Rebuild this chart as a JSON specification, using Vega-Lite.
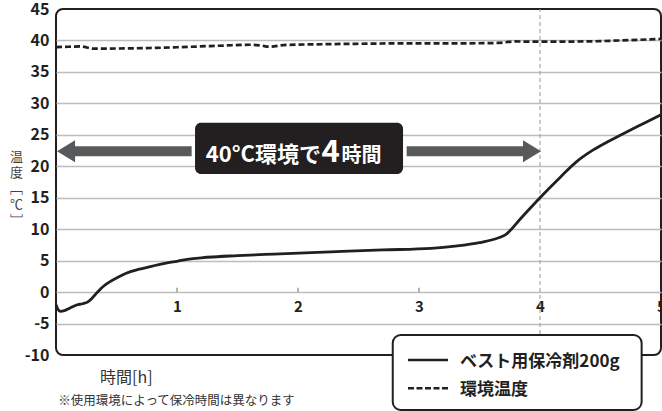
{
  "$schema": "https://vega.github.io/schema/vega-lite/v6.json",
  "width": 605,
  "height": 346,
  "autosize": {"type": "none"},
  "padding": {"left": 56, "top": 9, "right": 1, "bottom": 56},
  "background": "white",
  "config": {
    "view": {"stroke": "#231f20", "strokeWidth": 2, "cornerRadius": 7},
    "font": "Noto Sans CJK JP",
    "text": {"font": "Noto Sans CJK JP"}
  },
  "datasets": {
    "vest": [
      {"h": 0, "v": -2.0}, {"h": 0.015, "v": -2.7}, {"h": 0.035, "v": -3.05}, {"h": 0.07, "v": -2.95},
      {"h": 0.12, "v": -2.5}, {"h": 0.17, "v": -2.05}, {"h": 0.22, "v": -1.85}, {"h": 0.26, "v": -1.6},
      {"h": 0.29, "v": -1.15}, {"h": 0.32, "v": -0.5}, {"h": 0.36, "v": 0.35}, {"h": 0.4, "v": 1.05},
      {"h": 0.45, "v": 1.7}, {"h": 0.52, "v": 2.45}, {"h": 0.58, "v": 3.0}, {"h": 0.68, "v": 3.6},
      {"h": 0.78, "v": 4.05}, {"h": 0.9, "v": 4.55}, {"h": 1.0, "v": 4.9}, {"h": 1.1, "v": 5.25},
      {"h": 1.2, "v": 5.45}, {"h": 1.5, "v": 5.8}, {"h": 1.8, "v": 6.05}, {"h": 2.27, "v": 6.4},
      {"h": 2.7, "v": 6.7}, {"h": 3.1, "v": 6.95}, {"h": 3.3, "v": 7.3}, {"h": 3.5, "v": 7.85},
      {"h": 3.62, "v": 8.4}, {"h": 3.71, "v": 9.05}, {"h": 3.85, "v": 11.9}, {"h": 4.0, "v": 15.0},
      {"h": 4.17, "v": 18.3}, {"h": 4.3, "v": 20.7}, {"h": 4.44, "v": 22.6}, {"h": 4.58, "v": 24.1},
      {"h": 4.72, "v": 25.5}, {"h": 4.86, "v": 26.85}, {"h": 5.0, "v": 28.2}
    ],
    "env": [
      {"h": 0, "v": 38.95}, {"h": 0.1, "v": 39.0}, {"h": 0.2, "v": 39.05}, {"h": 0.31, "v": 38.7},
      {"h": 0.5, "v": 38.72}, {"h": 0.78, "v": 38.8}, {"h": 1.0, "v": 38.92}, {"h": 1.19, "v": 39.05},
      {"h": 1.4, "v": 39.2}, {"h": 1.6, "v": 39.32}, {"h": 1.69, "v": 39.2}, {"h": 1.77, "v": 39.0},
      {"h": 1.88, "v": 39.27}, {"h": 2.2, "v": 39.4}, {"h": 2.48, "v": 39.47}, {"h": 3.0, "v": 39.55},
      {"h": 3.4, "v": 39.55}, {"h": 3.65, "v": 39.6}, {"h": 3.79, "v": 39.84}, {"h": 4.01, "v": 39.8},
      {"h": 4.39, "v": 39.85}, {"h": 4.67, "v": 40.0}, {"h": 5.0, "v": 40.25}
    ]
  },
  "encoding": {
    "x": {
      "field": "h",
      "type": "quantitative",
      "scale": {"domain": [0, 5], "nice": false, "zero": false},
      "axis": {
        "values": [1, 2, 3, 4, 5],
        "offset": -63,
        "domain": false,
        "ticks": false,
        "grid": false,
        "labelPadding": 7,
        "labelFontSize": 15,
        "labelFontWeight": "bold",
        "labelColor": "#231f20",
        "labelFlush": false,
        "labelOverlap": false,
        "title": null
      }
    },
    "y": {
      "field": "v",
      "type": "quantitative",
      "scale": {"domain": [-10, 45], "nice": false, "zero": false},
      "axis": {
        "values": [-10, -5, 0, 5, 10, 15, 20, 25, 30, 35, 40, 45],
        "labelExpr": "'' + datum.value",
        "domain": false,
        "ticks": false,
        "grid": true,
        "gridColor": {"condition": {"test": "datum.value == 45 || datum.value == -10", "value": "transparent"}, "value": "#bdbdbd"},
        "gridWidth": 1.5,
        "labelPadding": 7,
        "labelFontSize": 16,
        "labelFontWeight": "bold",
        "labelColor": "#231f20",
        "title": ["温", "度", "﹇", "℃", "﹈"],
        "titleAngle": 0,
        "titleX": -40,
        "titleY": 141,
        "titleAlign": "center",
        "titleBaseline": "top",
        "titleFontSize": 13,
        "titleFontWeight": "normal",
        "titleColor": "#444444",
        "titleLineHeight": 16
      }
    }
  },
  "layer": [
    {
      "data": {"values": [{"h": 4, "v": -10, "v2": 45}]},
      "mark": {"type": "rule", "color": "#999999", "strokeWidth": 1, "strokeDash": [4, 3]},
      "encoding": {"y2": {"field": "v2"}}
    },
    {
      "data": {"values": [{"h": 1, "v": 0, "v2": 0.7}, {"h": 2, "v": 0, "v2": 0.7}, {"h": 3, "v": 0, "v2": 0.7}]},
      "mark": {"type": "rule", "color": "#999999", "strokeWidth": 1.5},
      "encoding": {"y2": {"field": "v2"}}
    },
    {
      "data": {"name": "env"},
      "mark": {"type": "line", "color": "#231f20", "strokeWidth": 2.7, "strokeDash": [6, 3], "interpolate": "monotone"}
    },
    {
      "data": {"name": "vest"},
      "mark": {"type": "line", "color": "#231f20", "strokeWidth": 2.8, "interpolate": "monotone"}
    },
    {
      "data": {"values": [{"h": 0.157, "h2": 1.121, "v": 22.4}, {"h": 2.898, "h2": 3.87, "v": 22.4}]},
      "mark": {"type": "rule", "color": "#58595b", "strokeWidth": 10, "strokeCap": "butt"},
      "encoding": {"x2": {"field": "h2"}}
    },
    {
      "data": {"values": [{"h": 0.083, "v": 22.4}]},
      "mark": {"type": "point", "shape": "M0.818,-1L-0.818,0L0.818,1Z", "filled": true, "size": 484, "color": "#58595b", "opacity": 1}
    },
    {
      "data": {"values": [{"h": 3.934, "v": 22.4}]},
      "mark": {"type": "point", "shape": "M-0.818,-1L0.818,0L-0.818,1Z", "filled": true, "size": 484, "color": "#58595b", "opacity": 1}
    },
    {
      "data": {"values": [{"h": 1.149, "h2": 2.868, "v": 26.93, "v2": 18.77}]},
      "mark": {"type": "rect", "color": "#231f20", "cornerRadius": 6},
      "encoding": {"x2": {"field": "h2"}, "y2": {"field": "v2"}}
    },
    {
      "data": {"values": [{"h": 2.19, "v": 20.73, "t": "40°C環境で"}]},
      "mark": {"type": "text", "color": "white", "fontSize": 22, "fontWeight": "bold", "align": "right", "baseline": "alphabetic"},
      "encoding": {"text": {"field": "t"}}
    },
    {
      "data": {"values": [{"h": 2.27, "v": 20.73, "t": "4"}]},
      "mark": {"type": "text", "color": "white", "fontSize": 31, "fontWeight": "bold", "align": "center", "baseline": "alphabetic"},
      "encoding": {"text": {"field": "t"}}
    },
    {
      "data": {"values": [{"h": 2.36, "v": 20.73, "t": "時間"}]},
      "mark": {"type": "text", "color": "white", "fontSize": 20, "fontWeight": "bold", "align": "left", "baseline": "alphabetic"},
      "encoding": {"text": {"field": "t"}}
    },
    {
      "data": {"values": [{"h": 2.783, "h2": 4.84, "v": -6.82, "v2": -18.74}]},
      "mark": {"type": "rect", "fill": "white", "stroke": "#231f20", "strokeWidth": 2, "cornerRadius": 8},
      "encoding": {"x2": {"field": "h2"}, "y2": {"field": "v2"}}
    },
    {
      "data": {"values": [{"h": 2.909, "h2": 3.24, "v": -10.79}]},
      "mark": {"type": "rule", "color": "#231f20", "strokeWidth": 2.5},
      "encoding": {"x2": {"field": "h2"}}
    },
    {
      "data": {"values": [{"h": 2.909, "h2": 3.24, "v": -15.29}]},
      "mark": {"type": "rule", "color": "#231f20", "strokeWidth": 2.5, "strokeDash": [6, 2.5]},
      "encoding": {"x2": {"field": "h2"}}
    },
    {
      "data": {"values": [{"h": 3.339, "v": -11.1, "t": "ベスト用保冷剤200g"}, {"h": 3.339, "v": -15.56, "t": "環境温度"}]},
      "mark": {"type": "text", "color": "#231f20", "fontSize": 17, "fontWeight": "bold", "align": "left", "baseline": "middle"},
      "encoding": {"text": {"field": "t"}}
    },
    {
      "data": {"values": [{"h": 0.364, "v": -13.73, "t": "時間[h]"}]},
      "mark": {"type": "text", "color": "#333333", "fontSize": 16, "align": "left", "baseline": "middle"},
      "encoding": {"text": {"field": "t"}}
    },
    {
      "data": {"values": [{"h": 0.019, "v": -17.39, "t": "※使用環境によって保冷時間は異なります"}]},
      "mark": {"type": "text", "color": "#333333", "fontSize": 12.5, "align": "left", "baseline": "middle"},
      "encoding": {"text": {"field": "t"}}
    }
  ]
}
